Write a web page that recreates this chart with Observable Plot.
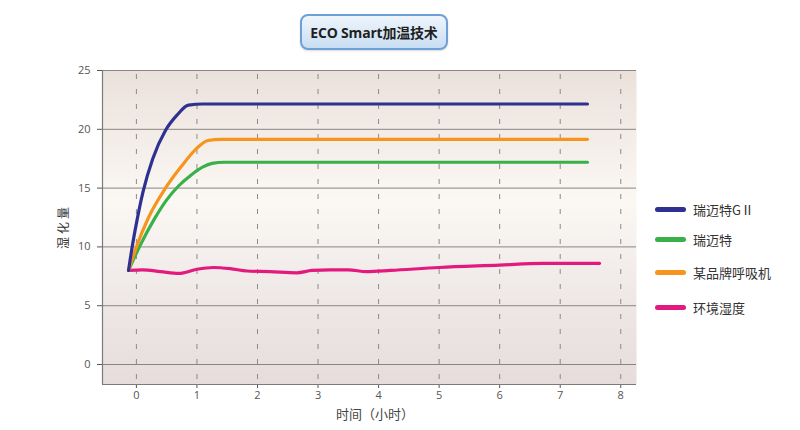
<!DOCTYPE html>
<html>
<head>
<meta charset="utf-8">
<script src="https://cdn.jsdelivr.net/npm/d3@7"></script>
<script src="https://cdn.jsdelivr.net/npm/@observablehq/plot@0.6"></script>
<style>
  html, body { margin: 0; padding: 0; background: #ffffff; }
  #wrap { position: relative; width: 800px; height: 430px; font-family: "Noto Sans CJK SC", "Noto Sans", sans-serif; }
  #title {
    position: absolute; left: 300px; top: 14px; width: 144px; height: 32px;
    border: 2px solid #6f9fd6; border-radius: 8px;
    background: linear-gradient(#eef5fc, #c9def3);
    font-family: "Open Sans", "Noto Sans CJK SC", sans-serif; font-weight: 700; font-size: 14px; color: #1f1f1f;
    display: flex; align-items: center; justify-content: center; letter-spacing: -0.2px;
    box-shadow: 0 1px 2px rgba(0,0,0,0.15);
  }
  #ylab { position: absolute; left: 22px; top: 218px; width: 80px; text-align: center; transform: rotate(-90deg); font-size: 12px; color: #333; letter-spacing: 3px; white-space: nowrap; }
  #xlab { position: absolute; left: 300px; top: 404px; width: 150px; text-align: center; font-size: 13px; color: #444; white-space: nowrap; }
  .leg { position: absolute; left: 655px; height: 20px; display: flex; align-items: center; font-size: 13px; color: #333; white-space: nowrap; }
  .sw { width: 31px; height: 5px; border-radius: 3px; margin-right: 7px; }
  #chart svg { position: absolute; left: 0; top: 0; }
</style>
</head>
<body>
<div id="wrap">
  <div id="chart"></div>
  <div id="title">ECO Smart加温技术</div>
  <div id="ylab">湿化量</div>
  <div id="xlab">时间（小时）</div>
  <div id="legend"></div>
</div>
<script>
// Series names and colours
const seriesNames = ["瑞迈特GⅡ", "瑞迈特", "某品牌呼吸机", "环境湿度"];
const seriesColors = ["#2e3192", "#39b04a", "#f7941d", "#e4197e"];

// Time (hours) and humidification values
const timeGII = [-0.13, -0.07, 0.0, 0.11, 0.27, 0.48, 0.67, 0.86, 1.1, 7.45];
const valueGII = [8.0, 10.0, 12.0, 14.7, 17.5, 19.9, 21.2, 22.05, 22.15, 22.15];

const timeRMT = [-0.13, 0.05, 0.3, 0.5, 0.7, 0.9, 1.1, 1.25, 1.45, 7.45];
const valueRMT = [8.0, 10.0, 12.4, 14.0, 15.2, 16.1, 16.8, 17.1, 17.2, 17.2];

const timeBrand = [-0.13, 0.0, 0.2, 0.48, 0.75, 1.0, 1.18, 1.4, 7.45];
const valueBrand = [8.0, 10.0, 12.5, 15.0, 16.9, 18.4, 19.05, 19.15, 19.15];

const timeAmb = [-0.13, 0.1, 0.4, 0.7, 1.0, 1.27, 1.55, 1.83, 2.2, 2.65, 2.9, 3.2, 3.5, 3.8, 4.2, 5.0, 6.0, 6.7, 7.2, 7.65];
const valueAmb = [8.0, 8.05, 7.9, 7.75, 8.1, 8.25, 8.15, 7.95, 7.9, 7.8, 8.0, 8.05, 8.05, 7.9, 8.0, 8.25, 8.45, 8.6, 8.6, 8.6];

// Axis ticks
const xTicks = [0, 1, 2, 3, 4, 5, 6, 7, 8];
const yTicks = [0, 5, 10, 15, 20, 25];
const xDomain = [-0.56, 8.26];
const yDomain = [-1.7, 25];

function toRows(ts, vs, name) { return ts.map((t, i) => ({ t, v: vs[i], s: name })); }
const rows = [
  ...toRows(timeGII, valueGII, seriesNames[0]),
  ...toRows(timeRMT, valueRMT, seriesNames[1]),
  ...toRows(timeBrand, valueBrand, seriesNames[2]),
  ...toRows(timeAmb, valueAmb, seriesNames[3])
];
const drawOrder = [seriesNames[3], seriesNames[1], seriesNames[2], seriesNames[0]];

const svg = Plot.plot({
  width: 800,
  height: 430,
  marginLeft: 102,
  marginRight: 164,
  marginTop: 70,
  marginBottom: 46,
  style: { background: "transparent", fontFamily: "'Open Sans', 'Noto Sans', sans-serif", fontSize: "11px", color: "#555" },
  x: { domain: xDomain, ticks: xTicks, tickSize: 4, tickPadding: 3, tickFormat: d => String(d), label: null },
  y: { domain: yDomain, ticks: yTicks, tickSize: 5, tickPadding: 7, label: null },
  color: { domain: seriesNames, range: seriesColors },
  marks: [
    Plot.frame({ fill: "url(#plotbg)", stroke: "none" }),
    Plot.ruleY(yTicks, { stroke: "#8a8584", strokeWidth: 1 }),
    Plot.ruleX(xTicks, { stroke: "#8a8a8a", strokeWidth: 1, strokeDasharray: "5,10", strokeDashoffset: -4 }),
    Plot.ruleX([xDomain[0]], { stroke: "#7d7a7a", strokeWidth: 1.2 }),
    Plot.ruleY([yDomain[0]], { stroke: "#7d7a7a", strokeWidth: 1.2 }),
    ...drawOrder.map(name => Plot.line(rows.filter(d => d.s === name), {
      x: "t", y: "v", stroke: "s", strokeWidth: 3.2, curve: "monotone-x", strokeLinecap: "round", strokeLinejoin: "round"
    }))
  ]
});

const ns = "http://www.w3.org/2000/svg";
const defs = document.createElementNS(ns, "defs");
defs.innerHTML = `<linearGradient id="plotbg" x1="0" y1="0" x2="0" y2="1">
  <stop offset="0" stop-color="#ebe1db"/>
  <stop offset="0.42" stop-color="#fbf8f4"/>
  <stop offset="0.7" stop-color="#efe9e7"/>
  <stop offset="1" stop-color="#e6dcdc"/>
</linearGradient>`;
svg.insertBefore(defs, svg.firstChild);
document.getElementById("chart").appendChild(svg);

// Legend
const legendY = [199, 229, 262, 297];
const legend = document.getElementById("legend");
seriesNames.forEach((name, i) => {
  const item = document.createElement("div");
  item.className = "leg";
  item.style.top = legendY[i] + "px";
  item.innerHTML = `<span class="sw" style="background:${seriesColors[i]}"></span><span>${name}</span>`;
  legend.appendChild(item);
});
</script>
</body>
</html>
